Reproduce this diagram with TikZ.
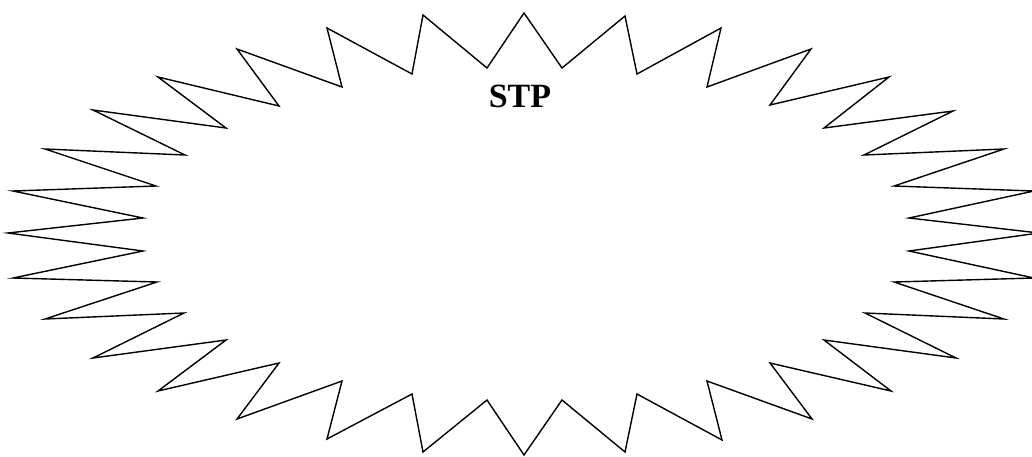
\documentclass[tikz,border=0pt]{standalone}
\usepackage{fontspec}
\setmainfont{Liberation Serif}
\begin{document}
\begin{tikzpicture}[x=1pt,y=-1pt,
  burst/.style={draw=black,line width=1.4pt,line join=miter,fill=white},
  label/.style={font=\fontsize{34}{40}\selectfont\bfseries,inner sep=0pt}]
\useasboundingbox (0,0) rectangle (1032,456);
\clip (0,0) rectangle (1032,456);
\draw[burst] (524,13) -- (562,68) -- (625,16) -- (637,74) -- (721,28) -- (707,87)
 -- (811,49) -- (770,105) -- (889,77) -- (824,128) -- (953,111) -- (864,155)
 -- (1004,149) -- (894,186) -- (1034,191) -- (909,218) -- (1039,233) -- (909,251)
 -- (1034,278) -- (894,282) -- (1004,319) -- (865,313) -- (956,358) -- (824,340)
 -- (891,391) -- (770,363) -- (812,419) -- (707,381) -- (722,440) -- (637,394)
 -- (625,452) -- (562,400) -- (524,455) -- (487,400) -- (423,452) -- (412,394)
 -- (327,439) -- (342,381) -- (237,419) -- (279,363) -- (158,391) -- (226,340)
 -- (93,358) -- (184,313) -- (45,319) -- (157,282) -- (13,278) -- (143,251)
 -- (8,233) -- (143,218) -- (13,191) -- (156,186) -- (45,149) -- (185,155)
 -- (93,110) -- (226,128) -- (158,77) -- (279,106) -- (237,49) -- (342,87)
 -- (327,28) -- (412,74) -- (423,15) -- (487,68) -- cycle;
\node[label] (stp) at (520,96) {STP};
\end{tikzpicture}
\end{document}
